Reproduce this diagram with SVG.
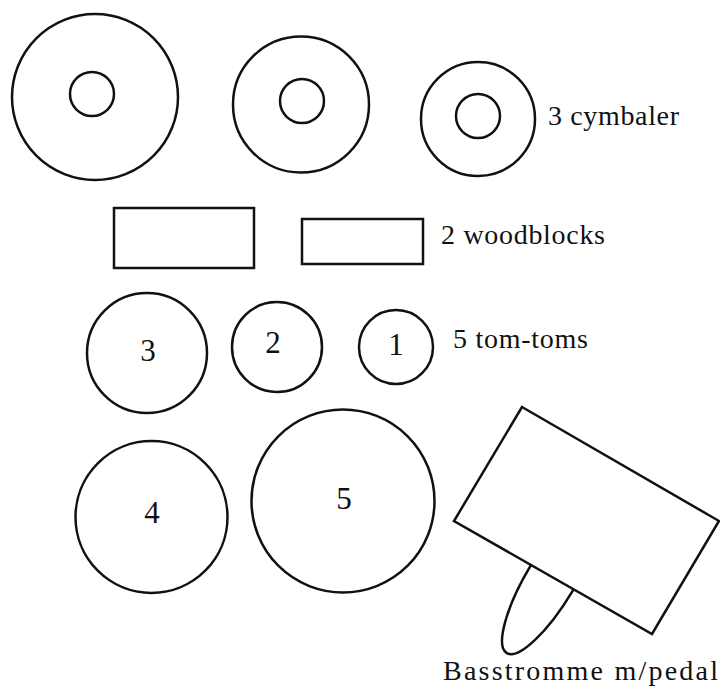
<svg xmlns="http://www.w3.org/2000/svg" width="720" height="691" viewBox="0 0 720 691">
<style>
.s{fill:#fff;stroke:#111;stroke-width:2.5}
.n{font-family:"Liberation Serif","Times New Roman",serif;font-size:31px;fill:#111;text-anchor:middle}
.l{font-family:"Liberation Serif","Times New Roman",serif;font-size:28px;fill:#111}
</style>
<rect width="720" height="691" fill="#fff"/>
<g id="cymbal1"><circle class="s" cx="95" cy="97" r="83"/><circle class="s" cx="92" cy="94" r="22"/></g>
<g id="cymbal2"><circle class="s" cx="301" cy="104.5" r="68"/><circle class="s" cx="302" cy="101" r="22"/></g>
<g id="cymbal3"><circle class="s" cx="478" cy="119" r="57"/><circle class="s" cx="478" cy="116" r="22"/></g>
<g id="label-cymbaler"><text class="l" x="548" y="125" textLength="131" lengthAdjust="spacing">3 cymbaler</text></g>
<g id="woodblock1"><rect class="s" x="114" y="208" width="140" height="60" stroke-width="3"/></g>
<g id="woodblock2"><rect class="s" x="302" y="219" width="121" height="45" stroke-width="3"/></g>
<g id="label-woodblocks"><text class="l" x="441" y="244" textLength="164" lengthAdjust="spacing">2 woodblocks</text></g>
<g id="tom3"><circle class="s" cx="147" cy="353" r="60"/><text class="n" x="148" y="361">3</text></g>
<g id="tom2"><circle class="s" cx="277" cy="347" r="45"/><text class="n" x="273" y="353">2</text></g>
<g id="tom1"><circle class="s" cx="396" cy="347" r="37"/><text class="n" x="396" y="355">1</text></g>
<g id="label-toms"><text class="l" x="453" y="348" textLength="135" lengthAdjust="spacing">5 tom-toms</text></g>
<g id="tom4"><circle class="s" cx="151.5" cy="517" r="76"/><text class="n" x="152" y="523">4</text></g>
<g id="tom5"><circle class="s" cx="343" cy="501" r="91.5"/><text class="n" x="344" y="509">5</text></g>
<g id="bassdrum">
<ellipse class="s" cx="0" cy="0" rx="87" ry="24.5" transform="translate(551.5,578.5) rotate(120.9)"/>
<polygon class="s" points="522,407 719,521 652,634 454,521" stroke-linejoin="miter"/>
</g>
<g id="label-bass"><text class="l" x="443" y="680" textLength="275" lengthAdjust="spacing">Basstromme m/pedal</text></g>
<g id="connectors"></g>
</svg>
